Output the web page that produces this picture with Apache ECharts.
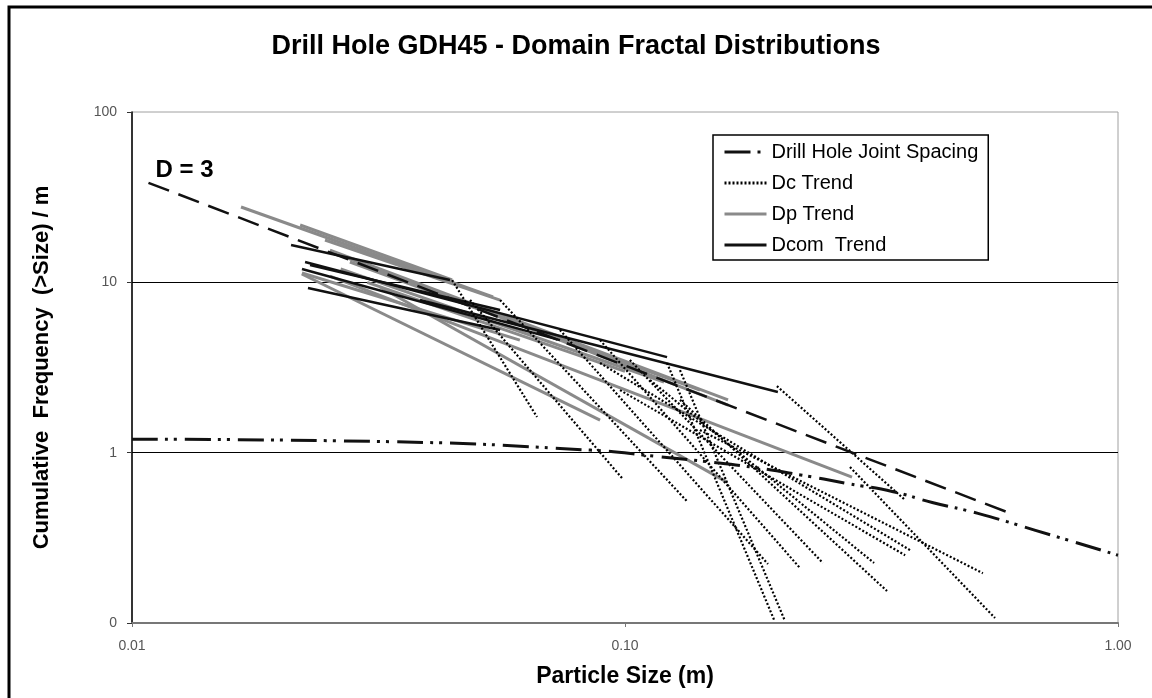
<!DOCTYPE html>
<html>
<head>
<meta charset="utf-8">
<script src="https://cdn.jsdelivr.net/npm/echarts@6/dist/echarts.min.js"></script>
<style>
  html, body { margin: 0; padding: 0; background: #fff; }
  #chart { width: 1152px; height: 698px; }
</style>
</head>
<body>
<div id="chart"></div>
<script>
// axis ticks
const xTicks = ['0.01', '0.10', '1.00'];
const yTicks = ['0', '1', '10', '100'];

// D = 3 reference line (start, end)
const d3Line = [[0.0108, 38.4], [0.618, 0.43]];

// drill hole joint spacing curve
const jointX = [0.01, 0.0333, 0.085, 0.116, 0.147, 0.182, 0.227, 0.282, 0.35, 0.42, 0.52, 0.68, 1.0];
const jointY = [1.20, 1.16, 1.035, 0.95, 0.885, 0.82, 0.74, 0.66, 0.59, 0.51, 0.44, 0.35, 0.25];

// Dc trend segments (dotted)
const dcLines = [
  [[0.0446, 10.3], [0.0663, 1.62]],
  [[0.0485, 7.87], [0.0986, 0.709]],
  [[0.0558, 7.87], [0.134, 0.513]],
  [[0.1217, 3.36], [0.201, 0.103]],
  [[0.1293, 3.05], [0.211, 0.103]],
  [[0.0738, 5.25], [0.195, 0.222]],
  [[0.089, 4.58], [0.2265, 0.21]],
  [[0.1023, 3.5], [0.252, 0.225]],
  [[0.1124, 2.67], [0.32, 0.225]],
  [[0.1293, 2.04], [0.34, 0.154]],
  [[0.2033, 2.46], [0.37, 0.527]],
  [[0.1419, 1.357], [0.532, 0.196]],
  [[0.286, 0.823], [0.563, 0.107]],
  [[0.0977, 2.33], [0.37, 0.25]],
  [[0.089, 3.36], [0.3785, 0.268]]
];

// Dp trend segments (grey)
const dpLines = [
  [[0.01664, 27.69], [0.054, 8.2]],
  [[0.02193, 21.7], [0.0446, 10.32]],
  [[0.02212, 11.34], [0.0612, 4.58]],
  [[0.02521, 15.47], [0.1618, 2.04]],
  [[0.02642, 14.47], [0.1618, 1.9]],
  [[0.03184, 9.385], [0.161, 0.672]],
  [[0.02521, 10.89], [0.2887, 0.719]],
  [[0.02463, 17.72], [0.0558, 7.87]],
  [[0.02767, 13.16], [0.1419, 2.33]],
  [[0.0221, 11.19], [0.089, 1.554]],
  [[0.0265, 12.0], [0.12, 2.6]],
  [[0.03, 10.0], [0.1, 3.0]]
];

// Dcom trend segments (black)
const dcomLines = [
  [[0.02102, 16.56], [0.04416, 10.32]],
  [[0.02244, 13.16], [0.1217, 3.64]],
  [[0.03838, 7.87], [0.2042, 2.27]],
  [[0.02275, 9.26], [0.0558, 5.25]],
  [[0.02212, 11.97], [0.0738, 4.58]],
  [[0.02297, 12.64], [0.0558, 6.88]]
];

const FONT = '"Liberation Sans", Arial, sans-serif';

let chart = echarts.init(document.getElementById('chart'));

let series = [];
dcLines.forEach(function (seg) {
  series.push({
    name: 'Dc Trend', type: 'line', symbol: 'none', z: 3,
    itemStyle: { color: '#000' },
    lineStyle: { color: '#000', width: 2.2, type: [2, 2] },
    data: seg
  });
});
dpLines.forEach(function (seg) {
  series.push({
    name: 'Dp Trend', type: 'line', symbol: 'none', z: 2,
    itemStyle: { color: '#8a8a8a' },
    lineStyle: { color: '#8a8a8a', width: 3 },
    data: seg
  });
});
dcomLines.forEach(function (seg) {
  series.push({
    name: 'Dcom  Trend', type: 'line', symbol: 'none', z: 2,
    itemStyle: { color: '#111' },
    lineStyle: { color: '#111', width: 2.5 },
    data: seg
  });
});
series.unshift({
  name: 'Drill Hole Joint Spacing', type: 'line', symbol: 'none', smooth: true, z: 4,
  itemStyle: { color: '#111' },
  lineStyle: { color: '#111', width: 3, type: [26, 7, 3, 6, 3, 8] },
  data: jointX.map(function (x, i) { return [x, jointY[i]]; })
});
series.push({
  name: 'D = 3', type: 'line', symbol: 'none', z: 4,
  itemStyle: { color: '#111' },
  lineStyle: { color: '#111', width: 2.5, type: [22, 10] },
  data: d3Line,
  markPoint: {
    symbol: 'circle', symbolSize: 0,
    data: [{ coord: d3Line[0] }],
    label: {
      show: true, formatter: 'D = 3', position: 'right', distance: 7, offset: [0, -12],
      color: '#000', fontSize: 24, fontWeight: 'bold', fontFamily: FONT
    }
  }
});

let option = {
  backgroundColor: '#fff',
  animation: false,
  title: {
    text: 'Drill Hole GDH45 - Domain Fractal Distributions',
    left: 'center',
    top: 28,
    textStyle: { color: '#000', fontSize: 27, fontWeight: 'bold', fontFamily: FONT }
  },
  legend: {
    orient: 'vertical',
    left: 713,
    top: 135,
    padding: [7, 10, 5, 10],
    itemWidth: 42,
    itemHeight: 14,
    itemGap: 11,
    borderColor: '#000',
    borderWidth: 1.5,
    itemStyle: { opacity: 0 },
    lineStyle: { width: 3 },
    data: ['Drill Hole Joint Spacing', 'Dc Trend', 'Dp Trend', 'Dcom  Trend'],
    textStyle: { color: '#000', fontSize: 20, lineHeight: 20, fontFamily: FONT }
  },
  grid: {
    left: 132, right: 34, top: 112, bottom: 75,
    show: true, borderColor: '#a0a0a0', borderWidth: 1,
    outerBoundsMode: 'none'
  },
  xAxis: {
    type: 'log', logBase: 10, min: 0.01, max: 1,
    name: 'Particle Size (m)',
    nameLocation: 'middle', nameGap: 42,
    nameTextStyle: { color: '#000', fontSize: 23, fontWeight: 'bold', fontFamily: FONT },
    axisLine: { lineStyle: { color: '#777', width: 2 } },
    axisTick: { show: true, length: 4, lineStyle: { color: '#777' } },
    minorTick: { show: false },
    splitLine: { show: false },
    axisLabel: {
      color: '#555', fontSize: 14, margin: 16, fontFamily: FONT,
      formatter: function (v) {
        let idx = Math.round(Math.log10(v)) + 2;
        return xTicks[idx];
      }
    }
  },
  yAxis: {
    type: 'log', logBase: 10, min: 0.1, max: 100,
    name: 'Cumulative  Frequency  (>Size) / m',
    nameLocation: 'middle', nameGap: 79, nameRotate: 90,
    nameTextStyle: { color: '#000', fontSize: 22, fontWeight: 'bold', fontFamily: FONT },
    axisLine: { show: true, lineStyle: { color: '#000', width: 1.5 } },
    axisTick: { show: true, length: 5, lineStyle: { color: '#333' } },
    splitLine: { show: true, showMinLine: false, showMaxLine: false, lineStyle: { color: '#000', width: 1 } },
    axisLabel: {
      color: '#555', fontSize: 14, margin: 15, fontFamily: FONT,
      formatter: function (v) {
        let idx = Math.round(Math.log10(v)) + 1;
        return yTicks[idx];
      }
    }
  },
  graphic: [{
    type: 'rect',
    shape: { x: 9, y: 7, width: 1160, height: 720 },
    style: { fill: 'none', stroke: '#000', lineWidth: 3 },
    silent: true
  }],
  series: series
};
chart.setOption(option);
</script>
</body>
</html>
